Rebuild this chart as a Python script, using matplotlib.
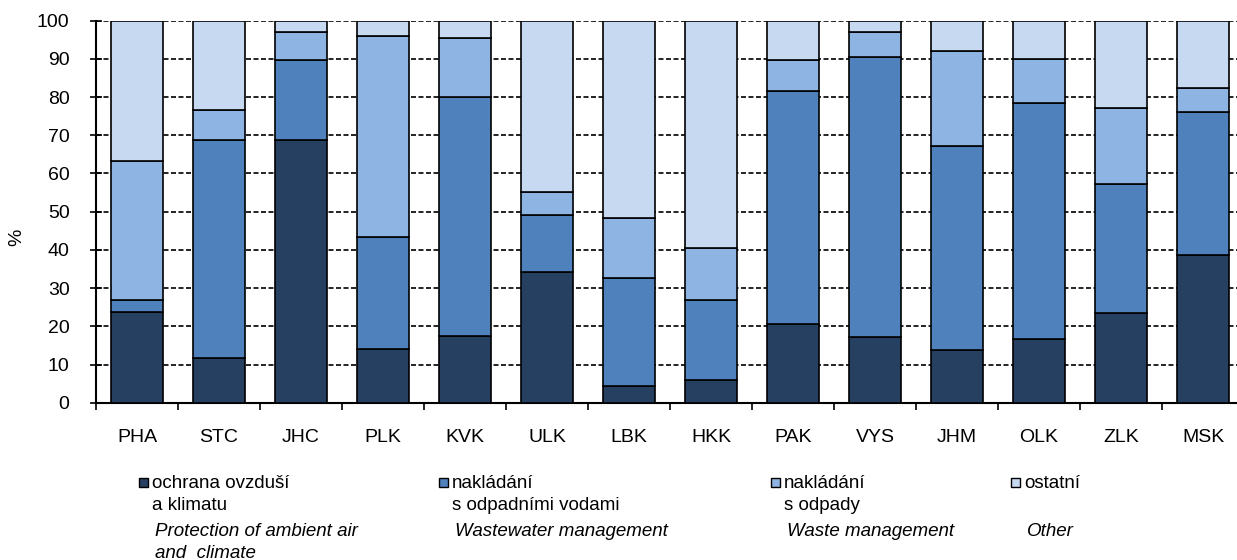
import numpy as np
import matplotlib.pyplot as plt
from matplotlib.patches import Rectangle

plt.rcParams['font.family'] = ['Liberation Sans', 'DejaVu Sans']

regions = ['PHA', 'STC', 'JHC', 'PLK', 'KVK', 'ULK', 'LBK',
           'HKK', 'PAK', 'VYS', 'JHM', 'OLK', 'ZLK', 'MSK']

# cumulative tops, converted to shares below
air_top = [23.8, 11.6, 68.8, 14.0, 17.4, 34.1, 4.4, 5.9, 20.5, 17.1, 13.7, 16.7, 23.4, 38.6]
water_top = [26.9, 68.8, 89.7, 43.4, 80.0, 49.2, 32.6, 26.9, 81.5, 90.6, 67.3, 78.5, 57.2, 76.0]
waste_top = [63.3, 76.5, 97.1, 96.0, 95.5, 55.1, 48.3, 40.4, 89.7, 97.1, 92.1, 90.1, 77.1, 82.5]

air = np.array(air_top)
water = np.array(water_top) - np.array(air_top)
waste = np.array(waste_top) - np.array(water_top)
other = 100 - np.array(waste_top)

labels_cz = ['ochrana ovzduší\na klimatu', 'nakládání\ns odpadními vodami',
             'nakládání\ns odpady', 'ostatní']
labels_en = ['Protection of ambient air\nand  climate', 'Wastewater management',
             'Waste management', 'Other']
colors = ['#264061', '#4f81bd', '#8eb4e3', '#c6d9f1']

fig = plt.figure(figsize=(12.37, 5.6), dpi=100)
ax = fig.add_axes([96 / 1237, 157.3 / 560, 1148 / 1237, 382 / 560])

x = np.arange(len(regions))
bottom = np.zeros(len(regions))
for vals, c in zip([air, water, waste, other], colors):
    ax.bar(x, vals, 0.63, bottom=bottom, color=c, edgecolor='black',
           linewidth=1.2, zorder=3)
    bottom += vals

ax.set_xlim(-0.5, len(regions) - 0.5)
ax.set_ylim(0, 100)
ax.set_yticks(np.arange(0, 101, 10))
ax.yaxis.grid(True, linestyle=(0, (3, 1.5)), color='black', linewidth=1.2, zorder=0)
ax.tick_params(axis='y', direction='inout', length=8, width=1.2, labelsize=14, pad=15)

ax.set_xticks(np.arange(len(regions) + 1) - 0.5)
ax.set_xticklabels([])
ax.set_xticks(x, minor=True)
ax.set_xticklabels(regions, minor=True, fontsize=14)
ax.tick_params(axis='x', which='major', direction='out', length=5, width=1.2)
ax.tick_params(axis='x', which='minor', length=0, pad=19)

for s in ['top', 'right']:
    ax.spines[s].set_visible(False)
for s in ['left', 'bottom']:
    ax.spines[s].set_linewidth(1.5)

ax.set_ylabel('%', fontsize=14)
ax.yaxis.set_label_coords(-0.0618, 0.434)

# legend
leg_x = [142, 442, 774, 1014]
for lx, c, lc, le in zip(leg_x, colors, labels_cz, labels_en):
    fig.patches.append(Rectangle(((lx - 3) / 1237, (560 - 487) / 560), 9 / 1237, 9 / 560,
                                 transform=fig.transFigure, facecolor=c,
                                 edgecolor='black', linewidth=1))
    fig.text((lx + 10) / 1237, (560 - 475) / 560, lc, fontsize=13.5, va='top',
             linespacing=1.4)
    fig.text((lx + 13) / 1237, (560 - 523) / 560, le, fontsize=13.5, va='top',
             style='italic', linespacing=1.4)

fig.savefig('out.png', dpi=100)
